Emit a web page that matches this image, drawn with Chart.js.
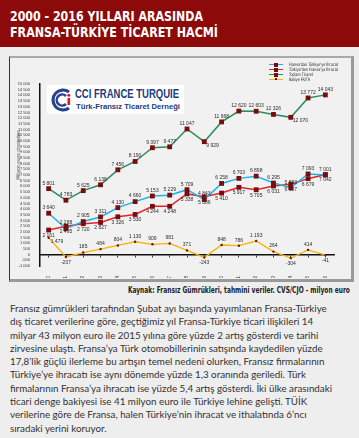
<!DOCTYPE html>
<html>
<head>
<meta charset="utf-8">
<script src="https://cdn.jsdelivr.net/npm/chart.js@4.4.1/dist/chart.umd.min.js"></script>
<style>
  body { margin: 0; width: 359px; height: 438px; background: #eeeeee; position: relative; overflow: hidden;
         font-family: "Liberation Sans Narrow", "DejaVu Sans Condensed", sans-serif; }
  .abs { position: absolute; white-space: nowrap; }
  #head { left: 0; top: 0; width: 359px; height: 47px; background: #8d0a0a; }
  .title { color: #fff; font-weight: bold; font-size: 14px; line-height: 14px; left: 10px; transform-origin: left top; }
  #box { left: 9px; top: 56px; width: 341px; height: 221px; border-top: 2px solid #a9a9a9; border-left: 1px solid #333;
         border-right: 3px solid #9a9a9a; border-bottom: 3px solid #9a9a9a; background: #f1f1f1; }
  #chart { position: absolute; left: 10px; top: 58px; }
  #logo { left: 47px; top: 85px; width: 137px; height: 29px; background: #fff; }
  .lg { font-size: 4.5px; line-height: 5px; color: #222; left: 289px; transform-origin: left top; }
  .lline { position: absolute; left: 269px; width: 14px; height: 1.5px; }
  .lmark { position: absolute; left: 274px; width: 4px; height: 4px; background: #7a0c0c; }
  #ytitle { font-size: 5px; color: #333; left: 18px; top: 155px; transform: translate(-50%, -50%) rotate(-90deg); }
  #source { font-weight: bold; font-size: 8.5px; color: #222; top: 285px; right: 9px; transform-origin: right top; }
  #text { left: 10px; top: 302px; font-family: Lato, sans-serif; font-size: 9.8px; line-height: 13.3px; color: #333; }
</style>
</head>
<body>
<div id="head" class="abs"></div>
<div id="t1" class="abs title" style="top:9px">2000 - 2016 YILLARI ARASINDA</div>
<div id="t2" class="abs title" style="top:25px">FRANSA-TÜRKİYE TİCARET HACMİ</div>
<div id="box" class="abs"></div>
<canvas id="chart" width="340" height="220"></canvas>

<div id="logo" class="abs">
  <svg width="24" height="26" style="position:absolute;left:3px;top:2px" viewBox="0 0 24 26">
    <path d="M19 5 A10 10 0 1 0 19 21" fill="none" stroke="#27438f" stroke-width="3.2"/>
    <path d="M16 9 A5.5 5.5 0 1 0 16 17" fill="none" stroke="#27438f" stroke-width="2.6"/>
    <rect x="17.5" y="11" width="2.6" height="7" fill="#e3141b"/>
    <circle cx="18.8" cy="8.3" r="1.5" fill="#e3141b"/>
  </svg>
  <div id="lg1" class="abs" style="left:28px;top:2px;font-family:'Liberation Sans',sans-serif;font-weight:bold;font-size:12px;color:#223a7c;transform-origin:left top">CCI FRANCE TURQUIE</div>
  <div id="lg2" class="abs" style="left:29px;top:17px;font-family:'Liberation Sans',sans-serif;font-weight:bold;font-size:7.5px;color:#223a7c;transform-origin:left top">Türk-Fransız Ticaret Derneği</div>
</div>

<div class="lline" style="top:63.5px;background:#1fb1ea"></div><div class="lmark" style="top:62.5px"></div>
<div class="lline" style="top:68.5px;background:#e1252d"></div><div class="lmark" style="top:67.5px"></div>
<div class="lline" style="top:73.5px;background:#2e8c5e"></div><div class="lmark" style="top:72.5px"></div>
<div class="lline" style="top:78.5px;background:#f6b500"></div><div class="lmark" style="top:78px;left:275px;width:2px;height:2px"></div>
<div id="l1" class="abs lg" style="top:62px">Fransa'dan Türkiye'ye İhracat</div>
<div id="l2" class="abs lg" style="top:67px">Türkiye'den Fransa'ya İhracat</div>
<div id="l3" class="abs lg" style="top:72px">Toplam Ticaret</div>
<div id="l4" class="abs lg" style="top:77px">Bakiye FR/TR</div>

<div id="ytitle" class="abs">Milyon euro cinsinden</div>
<div id="source" class="abs">Kaynak: Fransız Gümrükleri, tahmini veriler. CVS/CJO - milyon euro</div>

<div id="text" class="abs">Fransız gümrükleri tarafından Şubat ayı başında yayımlanan Fransa-Türkiye<br>dış ticaret verilerine göre, geçtiğimiz yıl Fransa-Türkiye ticari ilişkileri 14<br>milyar 43 milyon euro ile 2015 yılına göre yüzde 2 artış gösterdi ve tarihi<br>zirvesine ulaştı. Fransa’ya Türk otomobillerinin satışında kaydedilen yüzde<br>17,8’lik güçlü ilerleme bu artışın temel nedeni olurken, Fransız firmalarının<br>Türkiye’ye ihracatı ise aynı dönemde yüzde 1,3 oranında geriledi. Türk<br>firmalarının Fransa’ya ihracatı ise yüzde 5,4 artış gösterdi. İki ülke arasındaki<br>ticari denge bakiyesi ise 41 milyon euro ile Türkiye lehine gelişti. TÜİK<br>verilerine göre de Fransa, halen Türkiye’nin ihracat ve ithalatında 6’ncı<br>sıradaki yerini koruyor.</div>

<script>
// data (million euro)
const years = ['2000', '2001', '2002', '2003', '2004', '2005', '2006', '2007', '2008',
               '2009', '2010', '2011', '2012', '2013', '2014', '2015', '2016'];
const frToTr = [3640, 2288, 2905, 3311, 4130, 4660, 5153, 5229, 5709, 4843, 6258, 6703, 6898, 6295, 5883, 7093, 7001];
const trToFr = [2161, 2495, 2720, 2827, 3326, 3530, 4244, 4248, 5338, 5086, 5410, 5917, 5705, 6031, 6187, 6679, 7042];
const total = [5801, 4783, 5625, 6138, 7456, 8190, 9397, 9477, 11047, 9929, 11668, 12620, 12603, 12326, 12070, 13772, 14043];
const balance = [1479, -207, 185, 484, 804, 1130, 909, 981, 371, -243, 848, 786, 1193, 264, -304, 414, -41];
const yTicksMin = -1000, yTicksMax = 15000, yStep = 500;

// where the value label sits: t = above, b = below, r = right/below
const posFr = years.map(() => 't');
const posTr = years.map(() => 'b');
const posTotal = years.map((y, i) => (i === 9 || i === 14) ? 'r' : 't');
const posBal = balance.map((v, i) => i === 0 ? 'r' : (v < 0 ? 'b' : 't'));

function fmt(v) {
  const s = Math.abs(v).toString().replace(/\B(?=(\d{3})+(?!\d))/g, ' ');
  return (v < 0 ? '-' : '') + s;
}

// squeeze text to a width
function fit(id, w) {
  const el = document.getElementById(id);
  const cur = el.getBoundingClientRect().width;
  el.style.transform = 'scaleX(' + (w / cur) + ')';
}
fit('t1', 193); fit('t2', 208);
fit('lg1', 104); fit('lg2', 104);
fit('l1', 49); fit('l2', 49); fit('l3', 24); fit('l4', 21);
fit('source', 222);

const valueLabels = {
  id: 'valueLabels',
  afterDatasetsDraw(chart) {
    const ctx = chart.ctx;
    ctx.save();
    ctx.font = '5px "Liberation Sans Narrow", sans-serif';
    ctx.fillStyle = '#2b2b2b';
    chart.data.datasets.forEach((ds, i) => {
      const meta = chart.getDatasetMeta(i);
      meta.data.forEach((pt, j) => {
        const p = ds.labelPos[j];
        const txt = fmt(ds.data[j]);
        if (p === 't') { ctx.textAlign = 'center'; ctx.textBaseline = 'bottom'; ctx.fillText(txt, pt.x, pt.y - 3); }
        else if (p === 'b') { ctx.textAlign = 'center'; ctx.textBaseline = 'top'; ctx.fillText(txt, pt.x, pt.y + 3); }
        else { ctx.textAlign = 'left'; ctx.textBaseline = 'top'; ctx.fillText(txt, pt.x + 2, pt.y + 1); }
      });
    });
    ctx.restore();
  }
};

const sq = { pointStyle: 'rect', pointRadius: 3.4, pointBackgroundColor: '#7a0c0c', pointBorderColor: '#7a0c0c', pointBorderWidth: 0 };

new Chart(document.getElementById('chart'), {
  type: 'line',
  data: {
    labels: years,
    datasets: [
      Object.assign({ label: "Fransa'dan Türkiye'ye İhracat", data: frToTr, borderColor: '#1fb1ea', borderWidth: 1.5, labelPos: posFr }, sq),
      Object.assign({ label: "Türkiye'den Fransa'ya İhracat", data: trToFr, borderColor: '#e1252d', borderWidth: 1.5, labelPos: posTr }, sq),
      Object.assign({ label: 'Toplam Ticaret', data: total, borderColor: '#2e8c5e', borderWidth: 1.5, labelPos: posTotal }, sq),
      { label: 'Bakiye FR/TR', data: balance, borderColor: '#f6b500', borderWidth: 1.3, labelPos: posBal,
        pointStyle: 'circle', pointRadius: 1.2, pointBackgroundColor: '#7a0c0c', pointBorderWidth: 0 }
    ]
  },
  options: {
    responsive: false,
    devicePixelRatio: 1,
    animation: false,
    layout: { padding: { top: 26, right: 16, left: 0, bottom: 0 } },
    plugins: { legend: { display: false }, tooltip: { enabled: false } },
    scales: {
      x: {
        offset: true,
        grid: { display: false },
        border: { display: false },
        ticks: { font: { size: 4.5 }, color: '#333', minRotation: 90, maxRotation: 90, padding: 2, autoSkip: false },
        afterFit: s => { s.height = 12; }
      },
      x2: {
        type: 'category',
        labels: years,
        offset: true,
        position: { y: 0 },
        ticks: { display: false },
        grid: { display: true, drawOnChartArea: false, drawTicks: true, tickLength: 2, color: '#111', lineWidth: 0.8 },
        border: { display: true, color: '#111', width: 1.5 }
      },
      y: {
        min: yTicksMin,
        max: yTicksMax,
        grid: { display: false },
        border: { display: true, color: '#111', width: 1.5 },
        ticks: { stepSize: yStep, autoSkip: false, font: { size: 4 }, color: '#333', padding: 2,
                 callback: v => fmt(v) },
        afterFit: s => { s.width = 30; }
      }
    }
  },
  plugins: [valueLabels]
});
</script>
</body>
</html>
